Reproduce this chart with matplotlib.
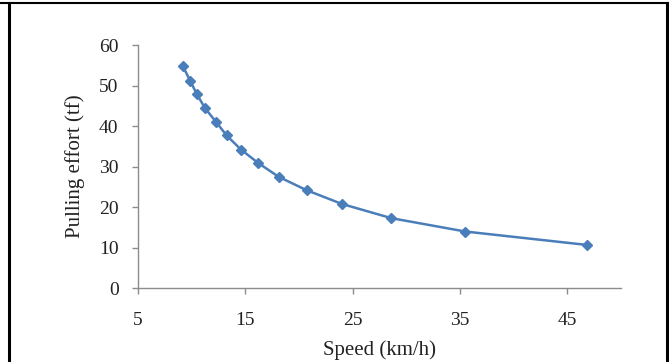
import numpy as np
import matplotlib
matplotlib.use("Agg")
import matplotlib.pyplot as plt
from matplotlib.lines import Line2D

# data
speed = [9.2, 9.85, 10.5, 11.25, 12.25, 13.25, 14.6, 16.2, 18.1, 20.7, 24.0, 28.6, 35.5, 46.8]
effort = [54.7, 51.2, 47.8, 44.4, 41.1, 37.7, 34.2, 30.9, 27.5, 24.2, 20.8, 17.3, 14.0, 10.7]
xticks = [5, 15, 25, 35, 45]
yticks = [0, 10, 20, 30, 40, 50, 60]

plt.rcParams['font.family'] = ['Liberation Serif', 'DejaVu Serif']

fig = plt.figure(figsize=(6.69, 3.62), dpi=100)
ax = fig.add_axes([138/669, 1 - 288.3/362, (621 - 138)/669, (288.3 - 45)/362])

ax.plot(speed, effort, color='#4a7ebb', lw=1.8, marker='D', ms=5.5,
        markerfacecolor='#4a7ebb', markeredgecolor='#4a7ebb')

ax.set_xlim(5, 50)
ax.set_ylim(0, 60)
ax.set_xticks(xticks)
ax.set_yticks(yticks)

for s in ['top', 'right']:
    ax.spines[s].set_visible(False)
for s in ['left', 'bottom']:
    ax.spines[s].set_color('#8c8c8c')
    ax.spines[s].set_linewidth(1.0)
ax.tick_params(axis='both', colors='#8c8c8c', length=4, width=1, labelcolor='#222222', labelsize=14)
ax.tick_params(axis='y', pad=10)
ax.tick_params(axis='x', pad=13)

ax.set_xlabel('Speed (km/h)', fontsize=15, color='#222222', labelpad=8)
ax.set_ylabel('Pulling effort (tf)', fontsize=15, color='#222222', labelpad=10)

# surrounding table frame
W, H = 669, 362
def fl(x0, y0, x1, y1, lw):
    fig.add_artist(Line2D([x0/W, x1/W], [1 - y0/H, 1 - y1/H], color='black', lw=lw,
                          transform=fig.transFigure))

fl(8.5, 3, 8.5, 362, 2.2)
fl(666.5, 3, 666.5, 362, 2.2)
fl(0, 2.5, 669, 2.5, 1.5)

fig.savefig('out.png', dpi=100)
